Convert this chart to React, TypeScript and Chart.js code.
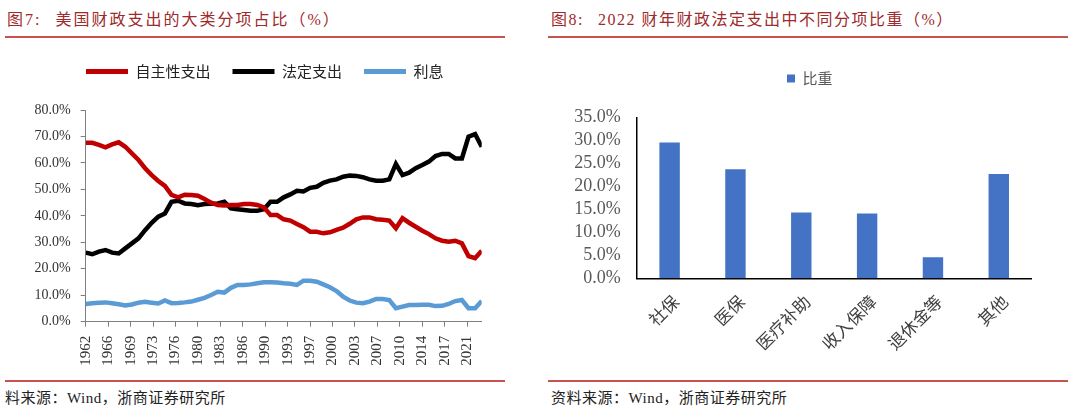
import React, { useEffect, useRef } from "react";
import { Chart, registerables } from "chart.js";

Chart.register(...registerables);

// ---------- data ----------
const YEARS = [
  1962, 1963, 1964, 1965, 1966, 1967, 1968, 1969, 1970, 1971,
  1972, 1973, 1974, 1975, 1976, 1977, 1978, 1979, 1980, 1981,
  1982, 1983, 1984, 1985, 1986, 1987, 1988, 1989, 1990, 1991,
  1992, 1993, 1994, 1995, 1996, 1997, 1998, 1999, 2000, 2001,
  2002, 2003, 2004, 2005, 2006, 2007, 2008, 2009, 2010, 2011,
  2012, 2013, 2014, 2015, 2016, 2017, 2018, 2019, 2020, 2021,
  2022,
];

const DISCRETIONARY = [
  67.6, 67.6, 66.8, 65.9, 67.0, 67.8, 66.1, 63.6, 61.1, 58.0,
  55.4, 53.2, 51.3, 47.9, 47.0, 48.0, 47.9, 47.6, 46.4, 45.0,
  44.1, 43.9, 44.1, 44.1, 44.5, 44.5, 44.1, 43.2, 40.3, 40.3,
  38.7, 38.2, 36.9, 35.7, 34.0, 34.0, 33.4, 33.8, 34.7, 35.5,
  37.0, 38.7, 39.4, 39.4, 38.7, 38.5, 38.2, 35.3, 39.1, 37.4,
  35.9, 34.4, 33.1, 31.5, 30.6, 30.2, 30.6, 29.6, 24.8, 24.0,
  26.8,
];

const MANDATORY = [
  26.1, 25.5, 26.5, 27.1, 26.1, 25.8, 27.7, 29.6, 31.5, 34.6,
  37.4, 39.7, 40.9, 45.3, 45.7, 44.7, 44.5, 44.0, 44.5, 44.6,
  44.7, 45.3, 42.8, 42.5, 42.2, 41.9, 41.9, 42.5, 45.3, 45.3,
  47.0, 48.1, 49.5, 49.2, 50.6, 51.0, 52.5, 53.3, 53.8, 54.8,
  55.2, 55.1, 54.6, 53.8, 53.3, 53.3, 53.8, 59.6, 55.4, 56.3,
  58.0, 59.2, 60.5, 62.6, 63.4, 63.4, 61.7, 61.7, 69.9, 70.9,
  66.1,
];

const INTEREST = [
  6.7, 7.0, 7.2, 7.3, 7.0, 6.6, 6.1, 6.5, 7.2, 7.5,
  7.2, 6.9, 8.0, 7.0, 7.1, 7.3, 7.6, 8.3, 9.0, 10.1,
  11.3, 11.0, 12.8, 13.9, 13.9, 14.1, 14.5, 14.9, 14.9, 14.8,
  14.5, 14.3, 13.9, 15.5, 15.5, 15.1, 14.1, 13.0, 11.6, 9.5,
  8.0, 7.2, 7.0, 7.6, 8.6, 8.6, 8.2, 5.1, 5.7, 6.3,
  6.3, 6.4, 6.4, 5.9, 6.0, 6.7, 7.8, 8.2, 5.1, 5.1,
  7.8,
];

const LINE_SERIES_NAMES = ["自主性支出", "法定支出", "利息"];

const X_TICK_LABELS = [
  "1962", "1966", "1969", "1973", "1976", "1980", "1983", "1986", "1990",
  "1993", "1997", "2000", "2003", "2007", "2010", "2014", "2017", "2021",
];

const BAR_CATEGORIES = ["社保", "医保", "医疗补助", "收入保障", "退休金等", "其他"];
const BAR_VALUES = [29.5, 23.7, 14.3, 14.1, 4.6, 22.7];
const BAR_SERIES_NAME = "比重";

// ---------- styling / layout config ----------
const LATIN_CJK = '"Liberation Serif", "Noto Sans CJK SC", serif';
const CJK_FONT = '"Noto Sans CJK SC", "Liberation Serif", sans-serif';
const TITLE_COLOR = "#9E2A2B";
const RULE_COLOR = "#C9514E";
const X_TICK_STEP = 3.4; // spacing (years) between the shown x labels

function legendBoxPlugin(h: number, left: number, right: number) {
  return {
    id: "legendBox",
    beforeLayout(chart: any) {
      const lg = chart.legend;
      if (lg && !lg.__patched) {
        const orig = lg.fit;
        lg.fit = function () {
          orig.call(this);
          this.height = h;
        };
        lg.__patched = true;
      }
    },
    afterLayout(chart: any) {
      const lg = chart.legend;
      if (lg) {
        lg.left = left;
        lg.right = right;
      }
    },
  };
}

function LineChart() {
  const ref = useRef<HTMLCanvasElement | null>(null);
  useEffect(() => {
    if (!ref.current) return;
    const colors = ["#C00000", "#000000", "#5B9BD5"];
    const series = [DISCRETIONARY, MANDATORY, INTEREST];
    const chart = new Chart(ref.current, {
      type: "line",
      data: {
        datasets: series.map((s, i) => ({
          label: LINE_SERIES_NAMES[i],
          data: s.map((v, k) => ({ x: YEARS[k], y: v })),
          borderColor: colors[i],
          backgroundColor: colors[i],
          borderWidth: 4.5,
          pointRadius: 0,
          tension: 0,
          fill: false,
        })),
      },
      options: {
        responsive: false,
        animation: false,
        layout: { padding: { left: 20, right: 58.3, top: 0, bottom: 0 } },
        plugins: {
          tooltip: { enabled: false },
          legend: {
            display: true,
            position: "top",
            align: "start",
            labels: {
              boxWidth: 42,
              boxHeight: 5,
              padding: 22,
              color: "#222",
              font: { family: CJK_FONT, size: 15 },
              generateLabels: (c: any) =>
                c.data.datasets.map((d: any, i: number) => ({
                  text: d.label,
                  fillStyle: d.borderColor,
                  strokeStyle: d.borderColor,
                  lineWidth: 0,
                  hidden: false,
                  datasetIndex: i,
                  fontColor: "#222",
                })),
            },
          },
        },
        scales: {
          x: {
            type: "linear",
            min: YEARS[0],
            max: YEARS[YEARS.length - 1],
            afterBuildTicks: (scale: any) => {
              scale.ticks = X_TICK_LABELS.map((_, i) => ({ value: YEARS[0] + i * X_TICK_STEP }));
            },
            afterFit: (scale: any) => {
              scale.height = 58.3;
            },
            grid: {
              display: true,
              drawOnChartArea: false,
              drawTicks: true,
              tickLength: 5,
              color: "#7F7F7F",
            },
            border: { display: true, color: "#7F7F7F", width: 1 },
            ticks: {
              autoSkip: false,
              minRotation: 90,
              maxRotation: 90,
              padding: 9,
              color: "#333",
              font: { family: LATIN_CJK, size: 15 },
              callback: (_v: any, i: number) => X_TICK_LABELS[i],
            },
          },
          y: {
            min: 0,
            max: 80,
            afterFit: (scale: any) => {
              scale.width = 65.7;
            },
            grid: {
              display: true,
              drawOnChartArea: false,
              drawTicks: true,
              tickLength: 5,
              color: "#7F7F7F",
            },
            border: { display: true, color: "#7F7F7F", width: 1 },
            ticks: {
              autoSkip: false,
              stepSize: 10,
              padding: 10,
              color: "#333",
              font: { family: LATIN_CJK, size: 14 },
              callback: (v: any) => Number(v).toFixed(1) + "%",
            },
          },
        },
      },
      plugins: [legendBoxPlugin(68, 64, 540)],
    } as any);
    return () => chart.destroy();
  }, []);
  return <canvas ref={ref} width={540} height={338} style={{ position: "absolute", left: 0, top: 42, width: 540, height: 338 }} />;
}

function BarChart() {
  const ref = useRef<HTMLCanvasElement | null>(null);
  useEffect(() => {
    if (!ref.current) return;
    const chart = new Chart(ref.current, {
      type: "bar",
      data: {
        labels: BAR_CATEGORIES,
        datasets: [
          {
            label: BAR_SERIES_NAME,
            data: BAR_VALUES,
            backgroundColor: "#4472C4",
            borderWidth: 0,
            categoryPercentage: 1,
            barPercentage: 0.31,
          },
        ],
      },
      options: {
        responsive: false,
        animation: false,
        layout: { padding: { left: 20, right: 48.3, top: 0, bottom: 0 } },
        plugins: {
          tooltip: { enabled: false },
          legend: {
            display: true,
            position: "top",
            align: "center",
            labels: {
              boxWidth: 8,
              boxHeight: 8,
              padding: 29,
              color: "#595959",
              font: { family: CJK_FONT, size: 15 },
              generateLabels: (c: any) =>
                c.data.datasets.map((d: any, i: number) => ({
                  text: d.label,
                  fillStyle: d.backgroundColor,
                  strokeStyle: d.backgroundColor,
                  lineWidth: 0,
                  hidden: false,
                  datasetIndex: i,
                  fontColor: "#595959",
                })),
            },
          },
        },
        scales: {
          x: {
            afterFit: (scale: any) => {
              scale.height = 101.7;
            },
            grid: { display: false, drawTicks: false },
            border: { display: true, color: "#000", width: 1.5 },
            ticks: {
              autoSkip: false,
              minRotation: 45,
              maxRotation: 45,
              padding: 13,
              labelOffset: 6,
              color: "#404040",
              font: { family: CJK_FONT, size: 17 },
            },
          },
          y: {
            min: 0,
            max: 35,
            afterFit: (scale: any) => {
              scale.width = 76.7;
            },
            grid: { display: false, drawTicks: false },
            border: { display: true, color: "#000", width: 1.5 },
            ticks: {
              autoSkip: false,
              stepSize: 5,
              padding: 16,
              color: "#595959",
              font: { family: LATIN_CJK, size: 18 },
              callback: (v: any) => Number(v).toFixed(1) + "%",
            },
          },
        },
      },
      plugins: [legendBoxPlugin(75.3, 119.75, 419.75)],
    } as any);
    return () => chart.destroy();
  }, []);
  return <canvas ref={ref} width={540} height={338} style={{ position: "absolute", left: 540, top: 42, width: 540, height: 338 }} />;
}

const titleStyle: React.CSSProperties = {
  position: "absolute",
  top: 9,
  fontFamily: LATIN_CJK,
  fontSize: 16,
  letterSpacing: 2,
  lineHeight: "22px",
  color: TITLE_COLOR,
  whiteSpace: "nowrap",
};

const footStyle: React.CSSProperties = {
  position: "absolute",
  top: 388,
  fontFamily: LATIN_CJK,
  fontSize: 15,
  letterSpacing: 0.5,
  lineHeight: "20px",
  color: "#222",
  whiteSpace: "nowrap",
};

export default function App() {
  return (
    <div style={{ position: "absolute", left: 0, top: 0, width: 1080, height: 413, background: "#fff", overflow: "hidden" }}>
      <div style={{ ...titleStyle, left: 7 }}>
        <span>图7:</span>
        <span style={{ marginLeft: 14 }}>美国财政支出的大类分项占比（%）</span>
      </div>
      <div style={{ ...titleStyle, left: 551, letterSpacing: 1.5 }}>
        <span>图8:</span>
        <span style={{ marginLeft: 14 }}>2022 财年财政法定支出中不同分项比重（%）</span>
      </div>
      <div style={{ position: "absolute", left: 5, top: 36, width: 500, height: 2, background: RULE_COLOR }} />
      <div style={{ position: "absolute", left: 548, top: 36, width: 520, height: 2, background: RULE_COLOR }} />

      <LineChart />
      <BarChart />

      <div style={{ position: "absolute", left: 5, top: 380, width: 500, height: 1.5, background: RULE_COLOR }} />
      <div style={{ position: "absolute", left: 548, top: 380, width: 520, height: 1.5, background: RULE_COLOR }} />
      <div style={{ ...footStyle, left: 5 }}>料来源：Wind，浙商证券研究所</div>
      <div style={{ ...footStyle, left: 551 }}>资料来源：Wind，浙商证券研究所</div>
    </div>
  );
}
